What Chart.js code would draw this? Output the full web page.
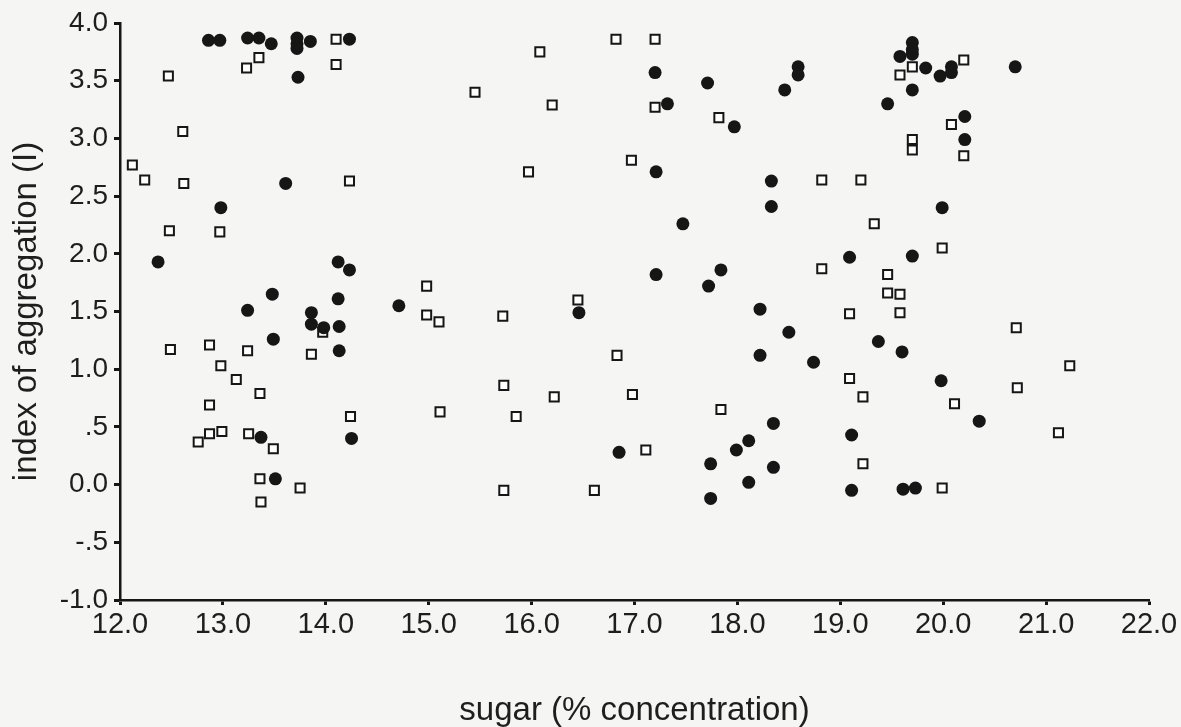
<!DOCTYPE html>
<html>
<head>
<meta charset="utf-8">
<script src="https://cdn.jsdelivr.net/npm/chart.js@4"></script>
<style>
  body { margin: 0; background: #f5f5f3; }
  #wrap { width: 1181px; height: 727px; }
</style>
</head>
<body>
<div id="wrap"><canvas id="myChart" width="1181" height="727"></canvas></div>
<script>
// group 1 (filled circles)
const filledX = [12.86, 12.97, 13.24, 13.35, 13.47, 13.72, 13.72, 13.72, 13.85, 14.23,
  13.73, 13.61, 12.98, 12.37, 14.12, 14.23, 13.48, 14.12, 13.24, 13.86,
  14.71, 13.86, 13.98, 14.13, 13.49, 14.13, 13.37, 14.25, 13.51, 17.20,
  17.71, 17.32, 17.97, 17.21, 18.33, 18.33, 17.47, 17.21, 17.84, 17.72,
  16.46, 18.22, 18.22, 16.85, 17.74, 17.74, 17.99, 18.11, 18.11, 18.35,
  18.35, 19.70, 19.70, 19.70, 19.58, 18.59, 18.59, 18.46, 19.83, 19.97,
  20.08, 20.08, 20.70, 19.70, 19.46, 20.21, 20.21, 19.99, 19.09, 19.70,
  18.50, 18.74, 19.37, 19.60, 19.98, 20.35, 19.11, 19.11, 19.61, 19.73];
const filledY = [3.85, 3.85, 3.87, 3.87, 3.82, 3.87, 3.82, 3.78, 3.84, 3.86,
  3.53, 2.61, 2.40, 1.93, 1.93, 1.86, 1.65, 1.61, 1.51, 1.49,
  1.55, 1.39, 1.36, 1.37, 1.26, 1.16, 0.41, 0.40, 0.05, 3.57,
  3.48, 3.30, 3.10, 2.71, 2.63, 2.41, 2.26, 1.82, 1.86, 1.72,
  1.49, 1.52, 1.12, 0.28, 0.18, -0.12, 0.30, 0.38, 0.02, 0.53,
  0.15, 3.83, 3.77, 3.73, 3.71, 3.62, 3.55, 3.42, 3.61, 3.54,
  3.62, 3.57, 3.62, 3.42, 3.30, 3.19, 2.99, 2.40, 1.97, 1.98,
  1.32, 1.06, 1.24, 1.15, 0.90, 0.55, 0.43, -0.05, -0.04, -0.03];

// group 2 (open squares)
const openX = [14.10, 13.23, 13.35, 14.10, 12.47, 12.61, 12.12, 12.24, 12.62, 14.23,
  12.48, 12.97, 13.97, 12.49, 12.87, 13.24, 13.86, 12.98, 13.13, 13.36,
  12.87, 14.24, 12.76, 12.87, 12.99, 13.25, 13.49, 13.36, 13.75, 13.37,
  16.82, 17.20, 16.08, 15.45, 16.20, 17.20, 17.82, 15.97, 16.97, 14.98,
  14.98, 15.10, 15.72, 16.45, 16.83, 15.73, 16.22, 16.98, 15.11, 15.85,
  17.84, 17.11, 15.73, 16.61, 19.70, 19.58, 20.20, 20.08, 19.70, 19.70,
  20.20, 18.82, 19.20, 19.33, 19.99, 18.82, 19.46, 19.46, 19.58, 19.09,
  19.58, 20.71, 21.23, 19.09, 19.22, 20.72, 20.11, 21.12, 19.22, 19.99];
const openY = [3.86, 3.61, 3.70, 3.64, 3.54, 3.06, 2.77, 2.64, 2.61, 2.63,
  2.20, 2.19, 1.32, 1.17, 1.21, 1.16, 1.13, 1.03, 0.91, 0.79,
  0.69, 0.59, 0.37, 0.44, 0.46, 0.44, 0.31, 0.05, -0.03, -0.15,
  3.86, 3.86, 3.75, 3.40, 3.29, 3.27, 3.18, 2.71, 2.81, 1.72,
  1.47, 1.41, 1.46, 1.60, 1.12, 0.86, 0.76, 0.78, 0.63, 0.59,
  0.65, 0.30, -0.05, -0.05, 3.62, 3.55, 3.68, 3.12, 2.99, 2.90,
  2.85, 2.64, 2.64, 2.26, 2.05, 1.87, 1.82, 1.66, 1.65, 1.48,
  1.49, 1.36, 1.03, 0.92, 0.76, 0.84, 0.70, 0.45, 0.18, -0.03];

const xTitle = 'sugar (% concentration)';
const yTitle = 'index of aggregation (I)';

const toPoints = (xs, ys) => xs.map((x, i) => ({x: x, y: ys[i]}));

// y labels drop the leading zero: ".5", "-.5"
const yLabel = v => v === 0 ? '0.0' : v.toFixed(1).replace(/^(-?)0\./, '$1.');

const font = 'Liberation Sans, Arial, sans-serif';
const ink = '#161616';
const textInk = '#1e1e1e';

const data = {
  datasets: [{
    label: 'group 1',
    data: toPoints(filledX, filledY),
    pointStyle: 'circle',
    pointRadius: 6.5,
    backgroundColor: ink,
    borderColor: ink,
    borderWidth: 0
  }, {
    label: 'group 2',
    data: toPoints(openX, openY),
    pointStyle: 'rect',
    pointRadius: 6.4,
    backgroundColor: '#ffffff',
    borderColor: ink,
    borderWidth: 2
  }]
};

const config = {
  type: 'scatter',
  data: data,
  options: {
    responsive: false,
    animation: false,
    layout: {
      padding: {top: 23, right: 32, bottom: 0, left: 0}
    },
    plugins: {
      legend: {display: false},
      tooltip: {enabled: false}
    },
    scales: {
      x: {
        type: 'linear',
        min: 12,
        max: 22,
        afterFit: s => { s.height = 127; },
        border: {display: true, color: ink, width: 2.5},
        grid: {drawOnChartArea: false, drawTicks: true, tickLength: 5, tickWidth: 3, tickColor: ink},
        ticks: {
          stepSize: 1,
          maxRotation: 0,
          padding: 3,
          color: textInk,
          font: {family: font, size: 29},
          callback: v => v.toFixed(1)
        },
        title: {
          display: true,
          text: xTitle,
          color: textInk,
          font: {family: font, size: 33, lineHeight: 1},
          padding: {top: 0, bottom: 0}
        }
      },
      y: {
        type: 'linear',
        min: -1,
        max: 4,
        afterFit: s => { s.width = 120; },
        border: {display: true, color: ink, width: 2.5},
        grid: {drawOnChartArea: false, drawTicks: true, tickLength: 6, tickWidth: 3, tickColor: ink},
        ticks: {
          stepSize: 0.5,
          padding: 6,
          color: textInk,
          font: {family: font, size: 28},
          callback: yLabel
        },
        title: {
          display: true,
          text: yTitle,
          color: textInk,
          font: {family: font, size: 33, lineHeight: 1.2},
          padding: {top: 7, bottom: 0}
        }
      }
    }
  }
};

const myChart = new Chart(document.getElementById('myChart'), config);
</script>
</body>
</html>
